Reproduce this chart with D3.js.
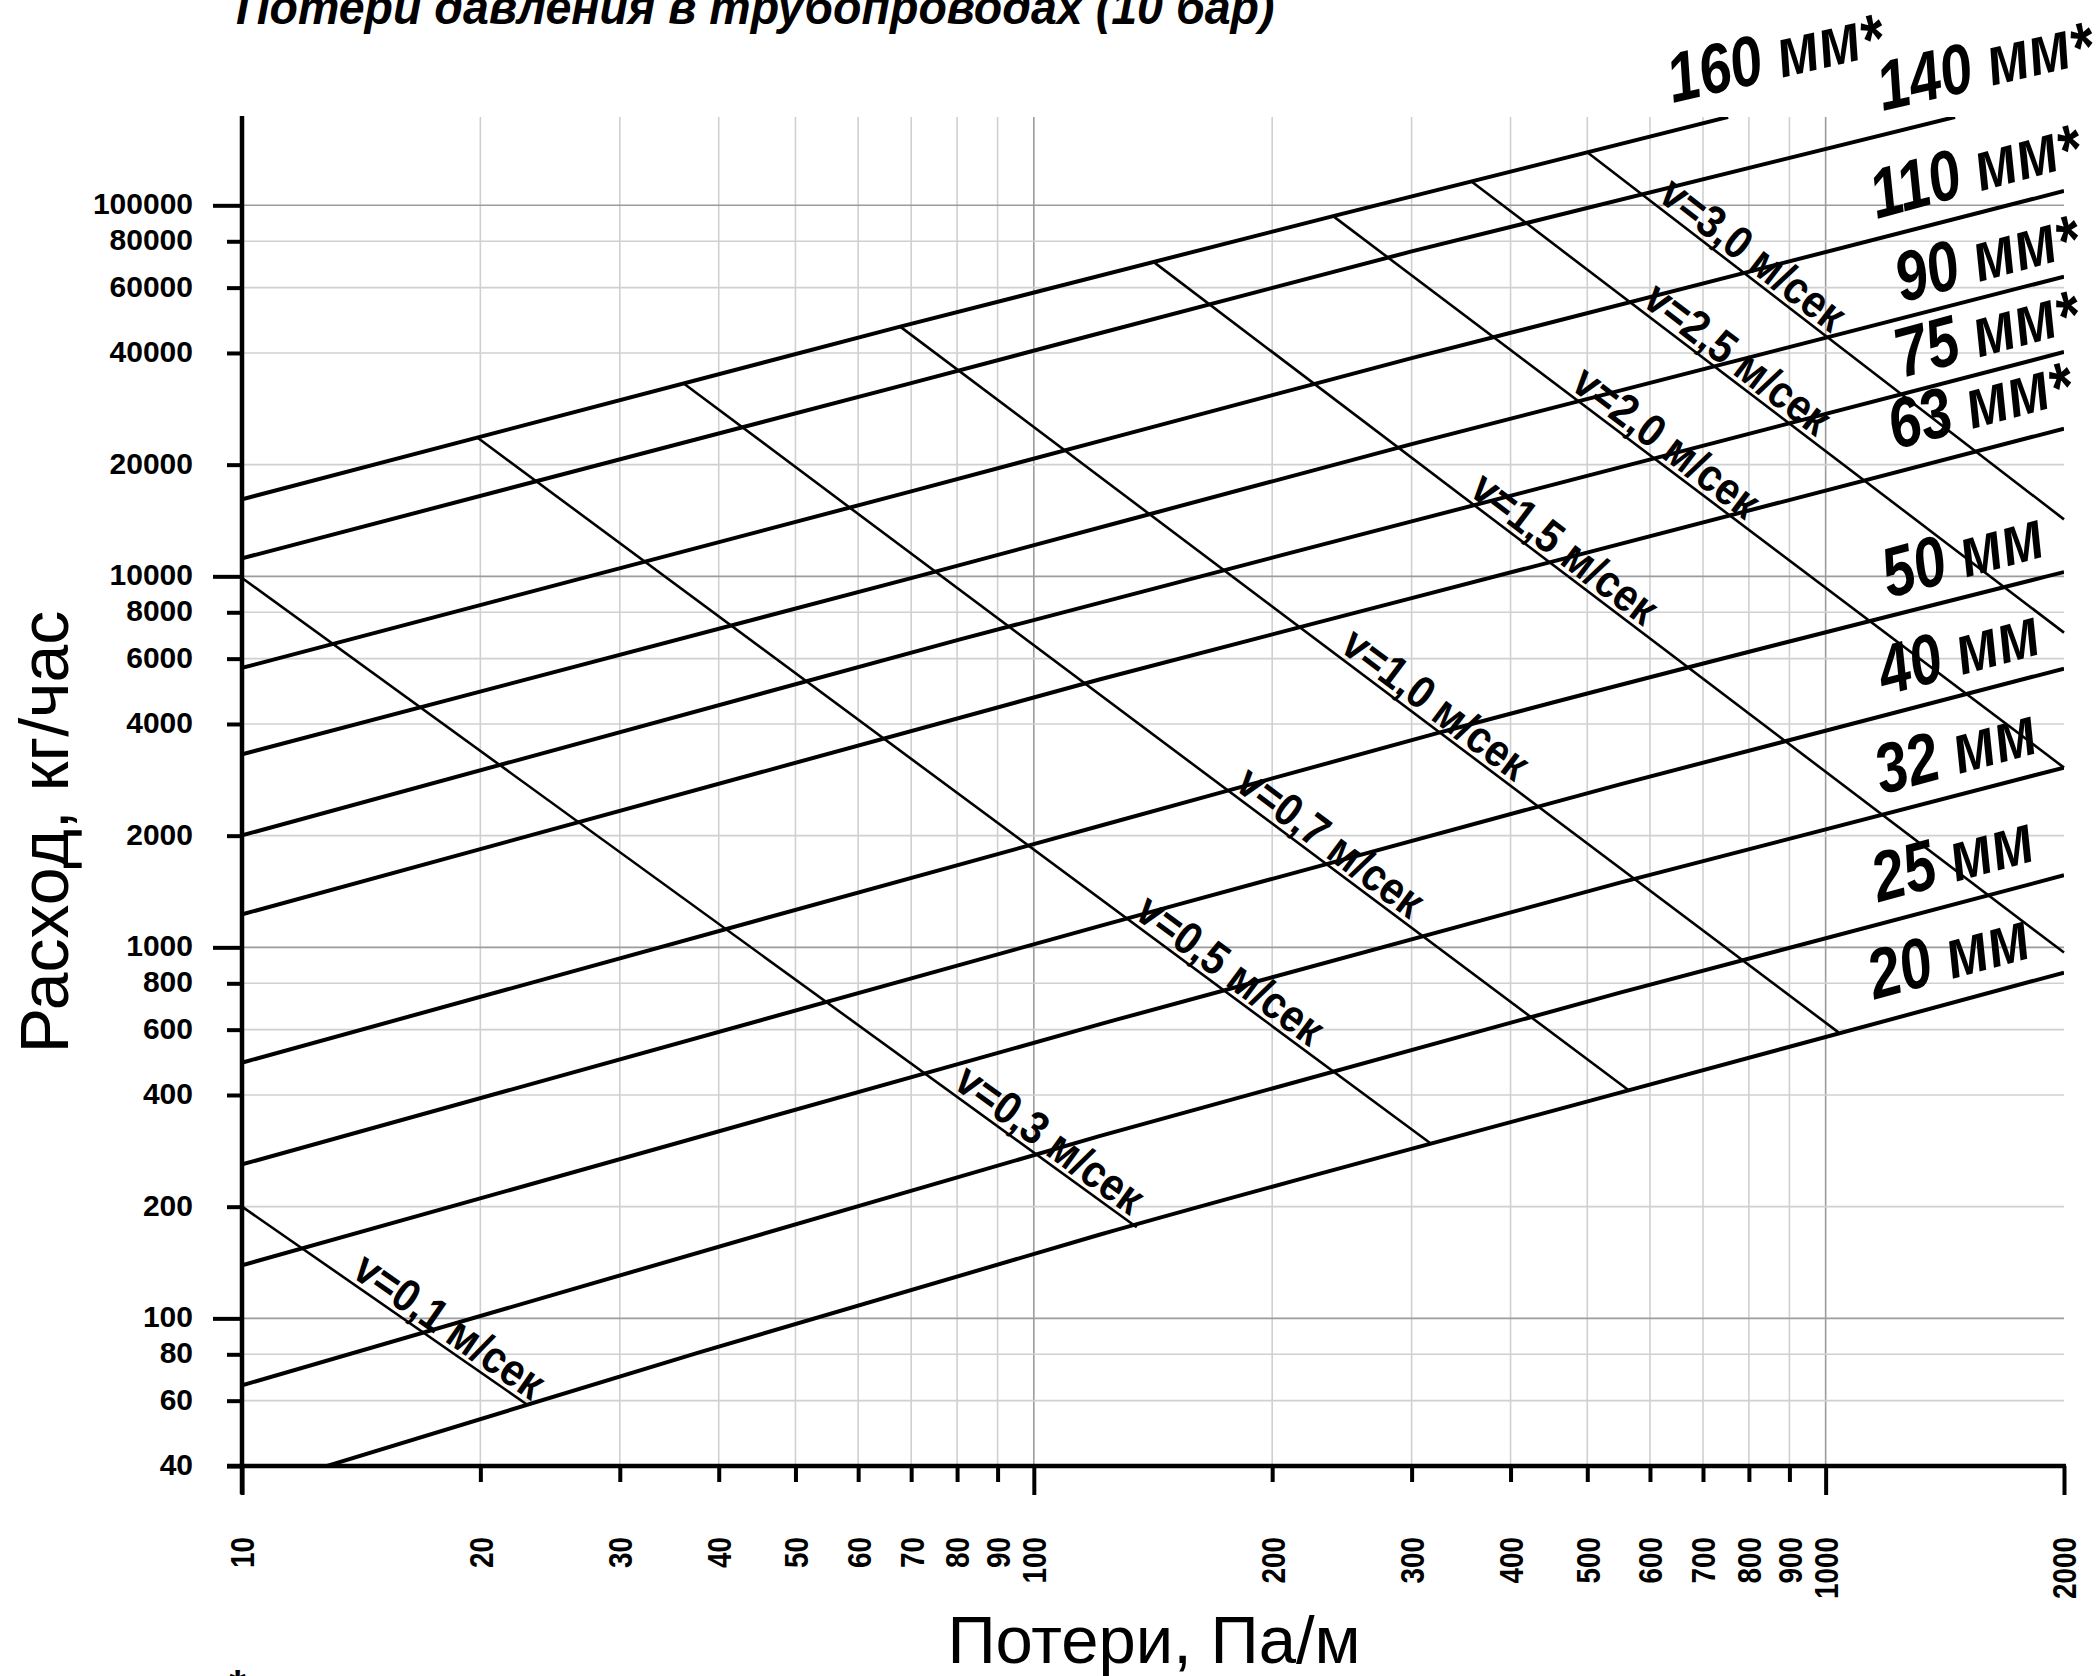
<!DOCTYPE html>
<html>
<head>
<meta charset="utf-8">
<script src="https://cdn.jsdelivr.net/npm/d3@7"></script>
<style>
  html, body { margin: 0; padding: 0; background: #fff; }
  svg { display: block; }
</style>
</head>
<body>
<div id="chart"></div>
<script>
var width = 2097,
    height = 1676;

// Axis ticks (Pa/m and kg/h).
var xTicks = [10, 20, 30, 40, 50, 60, 70, 80, 90, 100, 200, 300, 400, 500, 600, 700, 800, 900, 1000, 2000];
var yTicks = [40, 60, 80, 100, 200, 400, 600, 800, 1000, 2000, 4000, 6000, 8000, 10000, 20000, 40000, 60000, 80000, 100000];

// Pipe curves: [pressure loss Pa/m, flow kg/h].
var pipeNames = ["20 мм", "25 мм", "32 мм", "40 мм", "50 мм", "63 мм", "75 мм", "90 мм", "110 мм", "140 мм", "160 мм"];
var pipeStar = [false, false, false, false, false, true, true, true, true, true, true];

var pipe20 = [[12.8, 40], [37.8, 81], [121, 168], [550, 406], [2000, 855]];
var pipe25 = [[10, 66], [121, 310], [550, 755], [2000, 1564]];
var pipe32 = [[10, 139], [121, 620], [550, 1494], [2000, 3051]];
var pipe40 = [[10, 260], [121, 1141], [550, 2750], [2000, 5640]];
var pipe50 = [[10, 489], [121, 2123], [325, 3790], [2000, 10270]];
var pipe63 = [[10, 1227], [121, 5270], [300, 8733], [2000, 25010]];
var pipe75 = [[10, 2004], [80.7, 6764], [300, 14060], [2000, 40230]];
var pipe90 = [[10, 3313], [70, 9888], [300, 22720], [2000, 64250]];
var pipe110 = [[10, 5665], [70, 16940], [300, 38730], [2000, 109300]];
var pipe140 = [[10, 11180], [70, 33180], [300, 75120], [1457, 173000]];
var pipe160 = [[10, 16126], [67.8, 47100], [238.8, 93500], [753, 173000]];

var pipeSeries = [pipe20, pipe25, pipe32, pipe40, pipe50, pipe63, pipe75, pipe90, pipe110, pipe140, pipe160];

// Velocity lines: start and end [Pa/m, kg/h].
var velNames = ["v=0,1 м/сек", "v=0,3 м/сек", "v=0,5 м/сек", "v=0,7 м/сек", "v=1,0 м/сек",
                "v=1,5 м/сек", "v=2,0 м/сек", "v=2,5 м/сек", "v=3,0 м/сек"];
var velFrom = [[10, 200], [10, 9900], [19.8, 23700], [36.2, 33000], [67.8, 47100],
               [141.5, 70500], [238.8, 93500], [356, 116500], [499, 139500]];
var velTo = [[22.9, 58.6], [134.9, 176], [317.8, 295], [564, 412], [1038, 590],
             [2000, 968], [2000, 3051], [2000, 7052], [2000, 14240]];

// Layout (pixels).
var plot = {left: 242, right: 2064, top: 117, bottom: 1466};
var pipeLabelOffset = [[-189, 27], [-185, 27], [-182, 27], [-179, 27], [-175, 26], [-169, 21],
                       [-162, 26], [-162, 26], [-187, 28], [-72, -6], [-55, -14]];
var pipeLabelAngle = [-15, -15, -15, -15, -15, -15, -15, -15, -15, -13, -13];
var velLabelAt = [0.37, 0.79, 0.684, 0.578, 0.464, 0.342, 0.319, 0.282, 0.14];

var FONT = "'Liberation Sans', Arial, sans-serif";

function isDecade(v) {
    var l = Math.log10(v);
    return Math.abs(l - Math.round(l)) < 1e-9;
}

var x = d3.scaleLog().domain([10, 2000]).range([plot.left, plot.right]);
var y = d3.scaleLog().domain([40, 173000]).range([plot.bottom, plot.top]);

var svg = d3.select("#chart").append("svg")
    .attr("width", width)
    .attr("height", height)
    .style("background", "#fff");

svg.append("defs").append("clipPath")
    .attr("id", "plot-clip")
    .append("rect")
        .attr("x", plot.left)
        .attr("y", plot.top)
        .attr("width", plot.right - plot.left)
        .attr("height", plot.bottom - plot.top);

// Grid.
var grid = svg.append("g").attr("class", "grid");
grid.selectAll("line.gx")
    .data(xTicks.filter((d) => d > 10 && d < 2000))
    .enter().append("line")
        .attr("class", "gx")
        .attr("x1", (d) => x(d)).attr("x2", (d) => x(d))
        .attr("y1", plot.top).attr("y2", plot.bottom)
        .attr("stroke", (d) => isDecade(d) ? "#9c9c9c" : "#d0d0d0")
        .attr("stroke-width", 1.6);
grid.selectAll("line.gy")
    .data(yTicks.filter((d) => d > 40))
    .enter().append("line")
        .attr("class", "gy")
        .attr("y1", (d) => y(d)).attr("y2", (d) => y(d))
        .attr("x1", plot.left).attr("x2", plot.right)
        .attr("stroke", (d) => isDecade(d) ? "#9c9c9c" : "#d0d0d0")
        .attr("stroke-width", 1.6);

// Pipe curves.
var line = d3.line()
    .x((d) => x(d[0]))
    .y((d) => y(d[1]))
    .curve(d3.curveMonotoneX);

svg.append("g")
    .attr("clip-path", "url(#plot-clip)")
    .selectAll("path")
    .data(pipeSeries)
    .enter().append("path")
        .attr("d", line)
        .attr("fill", "none")
        .attr("stroke", "#000")
        .attr("stroke-width", 4);

// Velocity lines.
svg.append("g")
    .selectAll("line")
    .data(velNames)
    .enter().append("line")
        .attr("x1", (d, i) => x(velFrom[i][0]))
        .attr("y1", (d, i) => y(velFrom[i][1]))
        .attr("x2", (d, i) => x(velTo[i][0]))
        .attr("y2", (d, i) => y(velTo[i][1]))
        .attr("stroke", "#000")
        .attr("stroke-width", 2.6);

svg.append("g")
    .selectAll("text")
    .data(velNames)
    .enter().append("text")
        .attr("transform", function(d, i) {
            var x0 = x(velFrom[i][0]), y0 = y(velFrom[i][1]),
                x1 = x(velTo[i][0]), y1 = y(velTo[i][1]),
                t = velLabelAt[i];
            var a = Math.atan2(y1 - y0, x1 - x0) * 180 / Math.PI;
            return "translate(" + (x0 + t * (x1 - x0)) + "," + (y0 + t * (y1 - y0)) + ") rotate(" + a + ") scale(0.88,1)";
        })
        .attr("y", -5)
        .style("font", "bold 46px " + FONT)
        .text((d) => d);

// Pipe labels.
var pipeLabels = svg.append("g");
pipeSeries.forEach(function(s, i) {
    var last = s[s.length - 1];
    var px = x(last[0]) + pipeLabelOffset[i][0],
        py = y(last[1]) + pipeLabelOffset[i][1];
    var t = pipeLabels.append("text")
        .attr("transform", "translate(" + px + "," + py + ") rotate(" + pipeLabelAngle[i] + ") scale(0.82,1)")
        .style("font", "italic bold 70px " + FONT)
        .text(pipeNames[i]);
    if (pipeStar[i]) t.append("tspan").attr("dy", "0.1em").text("*");
});

// Y axis.
var gy = svg.append("g")
    .attr("transform", "translate(" + plot.left + ",0)")
    .call(d3.axisLeft(y).tickValues(yTicks).tickFormat(d3.format("d")).tickSizeOuter(0));
gy.select(".domain").remove();
gy.selectAll(".tick line")
    .attr("x2", (d) => isDecade(d) ? -29 : -15)
    .attr("stroke", "#000")
    .attr("stroke-width", 4);
gy.selectAll(".tick text")
    .attr("x", -49)
    .attr("dy", "0.28em")
    .attr("fill", "#000")
    .style("font", "bold 30px " + FONT);

// X axis.
var gx = svg.append("g")
    .attr("transform", "translate(0," + plot.bottom + ")")
    .call(d3.axisBottom(x).tickValues(xTicks).tickFormat(d3.format("d")).tickSizeOuter(0));
gx.select(".domain").remove();
gx.selectAll(".tick line")
    .attr("y2", (d) => isDecade(d) || d == 2000 ? 29 : 16)
    .attr("stroke", "#000")
    .attr("stroke-width", 4);
gx.selectAll(".tick text")
    .attr("x", 0)
    .attr("y", 0)
    .attr("dy", "0.35em")
    .attr("text-anchor", "end")
    .attr("transform", "translate(0,71) rotate(-90) scale(0.82,1)")
    .attr("fill", "#000")
    .style("font", "bold 34px " + FONT);

// Axis lines.
svg.append("line")
    .attr("x1", plot.left).attr("x2", plot.left)
    .attr("y1", plot.top - 1).attr("y2", plot.bottom + 28)
    .attr("stroke", "#000").attr("stroke-width", 4.5);
svg.append("line")
    .attr("x1", plot.left - 15).attr("x2", plot.right + 2)
    .attr("y1", plot.bottom).attr("y2", plot.bottom)
    .attr("stroke", "#000").attr("stroke-width", 4.5);

// Titles.
svg.append("text")
    .attr("transform", "translate(236,24) scale(0.97,1)")
    .style("font", "italic bold 48px " + FONT)
    .text("Потери давления в трубопроводах (10 бар)");

svg.append("text")
    .attr("transform", "translate(68,832) rotate(-90)")
    .attr("text-anchor", "middle")
    .style("font", "68px " + FONT)
    .text("Расход, кг/час");

svg.append("text")
    .attr("x", 1154).attr("y", 1663)
    .attr("text-anchor", "middle")
    .style("font", "67px " + FONT)
    .text("Потери, Па/м");

svg.append("text")
    .attr("x", 229).attr("y", 1701)
    .style("font", "bold 44px " + FONT)
    .text("*");
</script>
</body>
</html>
